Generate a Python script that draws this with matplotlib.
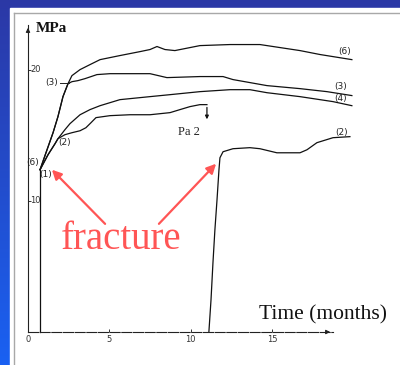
"""Compressive strength vs. time, with fracture points marked."""

import matplotlib
matplotlib.use("Agg")
import matplotlib.pyplot as plt
from matplotlib.patches import Rectangle
import numpy as np

# Time in months, strength in MPa
start_t = 0.74
start_v = 12.37

t6 = [0.74, 1.17, 1.54, 1.84, 2.15, 2.46, 2.70, 3.20, 3.81, 4.43, 5.65, 6.88,
      7.50, 7.93, 8.42, 9.03, 10.57, 12.42, 14.26, 15.49, 16.72, 17.95, 19.91]
v6 = [12.37, 13.89, 15.19, 16.41, 17.94, 18.93, 19.54, 20.00, 20.38, 20.76, 21.07, 21.37,
      21.53, 21.76, 21.53, 21.45, 21.83, 21.91, 21.91, 21.68, 21.45, 21.15, 20.76]

t3 = [0.74, 1.17, 1.54, 1.84, 2.15, 2.46, 2.70, 3.07, 3.50, 4.24, 5.04, 7.50,
      8.54, 10.57, 11.99, 12.60, 14.69, 16.72, 18.38, 19.91]
v3 = [12.37, 13.89, 15.19, 16.41, 17.94, 18.93, 19.08, 19.16, 19.31, 19.62, 19.69, 19.69,
      19.39, 19.47, 19.47, 19.24, 18.78, 18.55, 18.32, 18.02]

t4 = [0.74, 1.23, 1.66, 1.84, 2.27, 2.58, 3.20, 3.81, 4.43, 5.65, 7.50, 8.73,
      10.57, 12.42, 13.64, 14.69, 16.72, 18.75, 19.91]
v4 = [12.37, 13.51, 14.35, 14.73, 15.42, 15.88, 16.56, 16.95, 17.25, 17.71, 17.94, 18.09,
      18.32, 18.47, 18.47, 18.24, 17.94, 17.56, 17.25]

t2a = [0.74, 1.23, 1.66, 1.84, 2.27, 2.70, 3.20, 3.56, 3.87, 4.18, 5.04, 6.27,
       7.50, 8.73, 9.34, 9.96, 10.57, 11.00]
v2a = [12.37, 13.51, 14.35, 14.73, 15.04, 15.19, 15.34, 15.57, 15.95, 16.34, 16.49, 16.56,
       16.56, 16.72, 16.95, 17.18, 17.33, 17.33]
pa2_drop = 16.0

t2b = [11.12, 11.25, 11.37, 11.49, 11.62, 11.74, 11.80, 11.99, 12.60, 13.64, 14.26,
       15.30, 16.72, 17.15, 17.76, 18.75, 19.79]
v2b = [0.0, 2.44, 5.27, 7.79, 10.08, 12.37, 13.28, 13.74, 13.97, 14.05, 13.97,
       13.66, 13.66, 13.89, 14.43, 14.81, 14.89]

x_ticks = [0, 5, 10, 15]
y_ticks = [10, 20]

fig = plt.figure(figsize=(4, 3.65), dpi=100)

# slide background: blue gradient with white panel
bg = fig.add_axes([0, 0, 1, 1])
grad = np.linspace(0, 1, 256).reshape(-1, 1)
top = np.array([0.17, 0.22, 0.65])
bot = np.array([0.10, 0.38, 0.95])
img = top + (bot - top) * grad[:, :, None]
bg.imshow(img, extent=[0, 1, 0, 1], aspect="auto", origin="upper")
bg.add_patch(Rectangle((10 / 400, 0), 390 / 400, 357 / 365, color="white"))
bg.plot([14 / 400, 14 / 400], [0, 352 / 365], color="#a8a8a8", lw=1)
bg.plot([14 / 400, 1], [352 / 365, 352 / 365], color="#a8a8a8", lw=1)
bg.set_xlim(0, 1)
bg.set_ylim(0, 1)
bg.axis("off")

ax = fig.add_axes([28 / 400, 33 / 365, 305 / 400, 307 / 365])
ax.patch.set_alpha(0)
ax.set_xlim(0, 18.75)
ax.set_ylim(0, 23.4)
for s in ["top", "right"]:
    ax.spines[s].set_visible(False)
for s in ["left", "bottom"]:
    ax.spines[s].set_linewidth(0.8)
    ax.spines[s].set_color("#222222")
ax.spines["bottom"].set_linestyle((0, (9, 1.5)))

ax.set_xticks(x_ticks)
ax.set_yticks(y_ticks)
ax.set_yticklabels([])
ax.tick_params(axis="both", direction="in", length=2.5, width=0.7, colors="#333333")
ax.tick_params(axis="x", labelsize=6, pad=2)
for v in y_ticks:
    ax.text(0.12, v, str(v), fontsize=6, color="#333333", va="center", ha="left")

arrow = dict(arrowstyle="-|>", lw=0.8, color="#222222", mutation_scale=6)
ax.annotate("", xy=(18.75, 0), xytext=(18.2, 0), arrowprops=arrow, annotation_clip=False)
ax.annotate("", xy=(0, 23.4), xytext=(0, 22.6), arrowprops=arrow, annotation_clip=False)

# curves
kw = dict(color="#111111", lw=0.9, clip_on=False)
ax.plot([start_t, start_t], [0, start_v], **kw)
ax.plot(t6, v6, **kw)
ax.plot(t3, v3, **kw)
ax.plot(t4, v4, **kw)
ax.plot(t2a, v2a, **kw)
ax.annotate("", xy=(t2a[-1], pa2_drop), xytext=(t2a[-1], v2a[-1]),
            arrowprops=dict(arrowstyle="-|>", lw=0.9, color="#111111", mutation_scale=5))
ax.plot(t2b, v2b, **kw)

lab = dict(fontsize=6.5, color="#222222", ha="center", va="center")
ax.text(19.48, 21.4, "(6)", **lab)
ax.text(19.24, 18.7, "(3)", **lab)
ax.text(19.24, 17.8, "(4)", **lab)
ax.text(19.3, 15.2, "(2)", **lab)
ax.text(1.48, 19.0, "(3)", **lab)
ax.plot([1.97, 2.55], [19.0, 19.0], color="#222222", lw=0.7)
ax.text(0.31, 12.9, "(6)", **lab)
ax.text(1.1, 12.0, "(1)", **lab)
ax.text(2.27, 14.43, "(2)", **lab)
ax.text(9.9, 15.27, "Pa 2", fontsize=9, color="#222222", ha="center", va="center",
        family="Liberation Serif")

ax.text(0.49, 23.13, "MPa", fontsize=11, fontweight="bold", family="Liberation Serif",
        ha="left", va="center", color="#111111")
ax.text(14.2, 0.99, "Time (months)", fontsize=15.5, family="Liberation Serif",
        ha="left", va="baseline", color="#111111")

red = "#ff5555"
ax.text(5.72, 6.3, "fracture", fontsize=28, family="Liberation Serif", color=red,
        ha="center", va="baseline")
red_arrow = dict(arrowstyle="-|>", lw=1.6, color=red, mutation_scale=14)
ax.annotate("", xy=(1.35, 12.52), xytext=(4.86, 8.09), arrowprops=red_arrow)
ax.annotate("", xy=(11.68, 12.98), xytext=(7.93, 8.09), arrowprops=red_arrow)

fig.savefig("out.png", dpi=100)
